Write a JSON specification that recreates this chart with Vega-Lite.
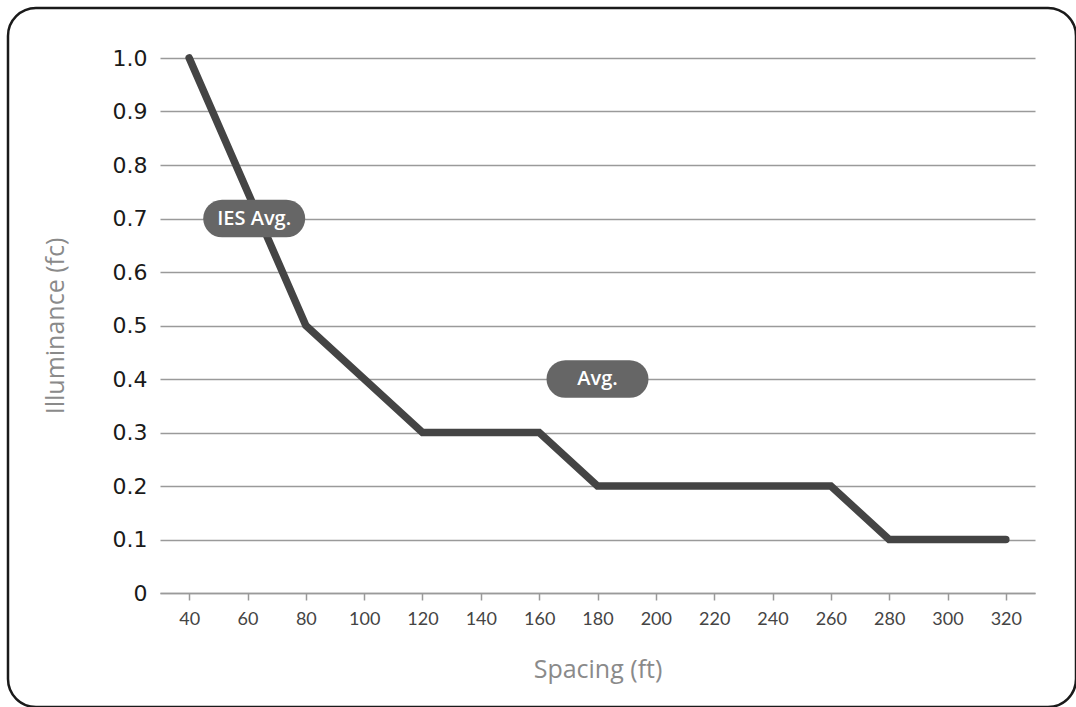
{
  "$schema": "https://vega.github.io/schema/vega-lite/v6.json",
  "width": 1068,
  "height": 699,
  "autosize": {"type": "none"},
  "padding": {"left": 8, "top": 8, "right": 0, "bottom": 0},
  "background": "white",
  "config": {"view": {"stroke": "#1a1a1a", "strokeWidth": 2.5, "cornerRadius": 28}},
  "datasets": {
    "curve": [
      {"spacing": 40, "illuminance": 1.0},
      {"spacing": 80, "illuminance": 0.5},
      {"spacing": 100, "illuminance": 0.4},
      {"spacing": 120, "illuminance": 0.3},
      {"spacing": 160, "illuminance": 0.3},
      {"spacing": 180, "illuminance": 0.2},
      {"spacing": 260, "illuminance": 0.2},
      {"spacing": 280, "illuminance": 0.1},
      {"spacing": 320, "illuminance": 0.1}
    ],
    "labels": [
      {"spacing": 62.3, "illuminance": 0.7, "label": "IES Avg."},
      {"spacing": 180, "illuminance": 0.4, "label": "Avg."}
    ]
  },
  "layer": [
    {
      "data": {"name": "curve"},
      "mark": {"type": "line", "color": "#444444", "strokeWidth": 7.5, "strokeCap": "round", "strokeJoin": "miter"},
      "encoding": {
        "x": {
          "field": "spacing", "type": "quantitative",
          "scale": {"domain": [30, 330], "range": [152, 1027], "nice": false, "zero": false},
          "axis": {
            "title": "Spacing (ft)",
            "values": [40, 60, 80, 100, 120, 140, 160, 180, 200, 220, 240, 260, 280, 300, 320],
            "grid": false,
            "domainColor": "#9a9a9a", "domainWidth": 1.5,
            "tickColor": "#9a9a9a", "tickSize": 7, "tickWidth": 1.5,
            "labelPadding": 10, "labelFont": "Lato", "labelFontSize": 18, "labelColor": "#444444",
            "titleFont": "Open Sans", "titleFontSize": 25, "titleColor": "#8a8a8a", "titleFontWeight": "normal",
            "titlePadding": 29,
            "offset": -114
          }
        },
        "y": {
          "field": "illuminance", "type": "quantitative",
          "scale": {"domain": [0, 1], "range": [585, 50], "nice": false, "zero": false},
          "axis": {
            "title": "Illuminance (fc)",
            "values": [0, 0.1, 0.2, 0.3, 0.4, 0.5, 0.6, 0.7, 0.8, 0.9, 1.0],
            "labelExpr": "datum.value == 0 ? '0' : format(datum.value, '.1f')",
            "grid": true, "gridColor": "#9a9a9a", "gridWidth": 1.5,
            "domain": false, "ticks": false, "tickSize": 0,
            "labelPadding": 13, "labelFont": "DejaVu Sans", "labelFontSize": 22, "labelFontWeight": "normal", "labelColor": "#1a1a1a",
            "titleFont": "Open Sans", "titleFontSize": 25, "titleColor": "#8a8a8a", "titleFontWeight": "normal",
            "titlePadding": 44,
            "offset": -152
          }
        }
      }
    },
    {
      "data": {"name": "labels"},
      "mark": {
        "type": "point",
        "shape": "M -0.63 -0.37 L 0.63 -0.37 A 0.37 0.37 0 0 1 0.63 0.37 L -0.63 0.37 A 0.37 0.37 0 0 1 -0.63 -0.37 Z",
        "size": 10404, "filled": true, "color": "#666666", "opacity": 1, "strokeWidth": 0
      },
      "encoding": {
        "x": {"field": "spacing", "type": "quantitative"},
        "y": {"field": "illuminance", "type": "quantitative"}
      }
    },
    {
      "data": {"name": "labels"},
      "mark": {"type": "text", "color": "white", "font": "Open Sans", "fontSize": 20, "fontWeight": 600, "align": "center", "baseline": "middle"},
      "encoding": {
        "x": {"field": "spacing", "type": "quantitative"},
        "y": {"field": "illuminance", "type": "quantitative"},
        "text": {"field": "label", "type": "nominal"}
      }
    }
  ]
}
